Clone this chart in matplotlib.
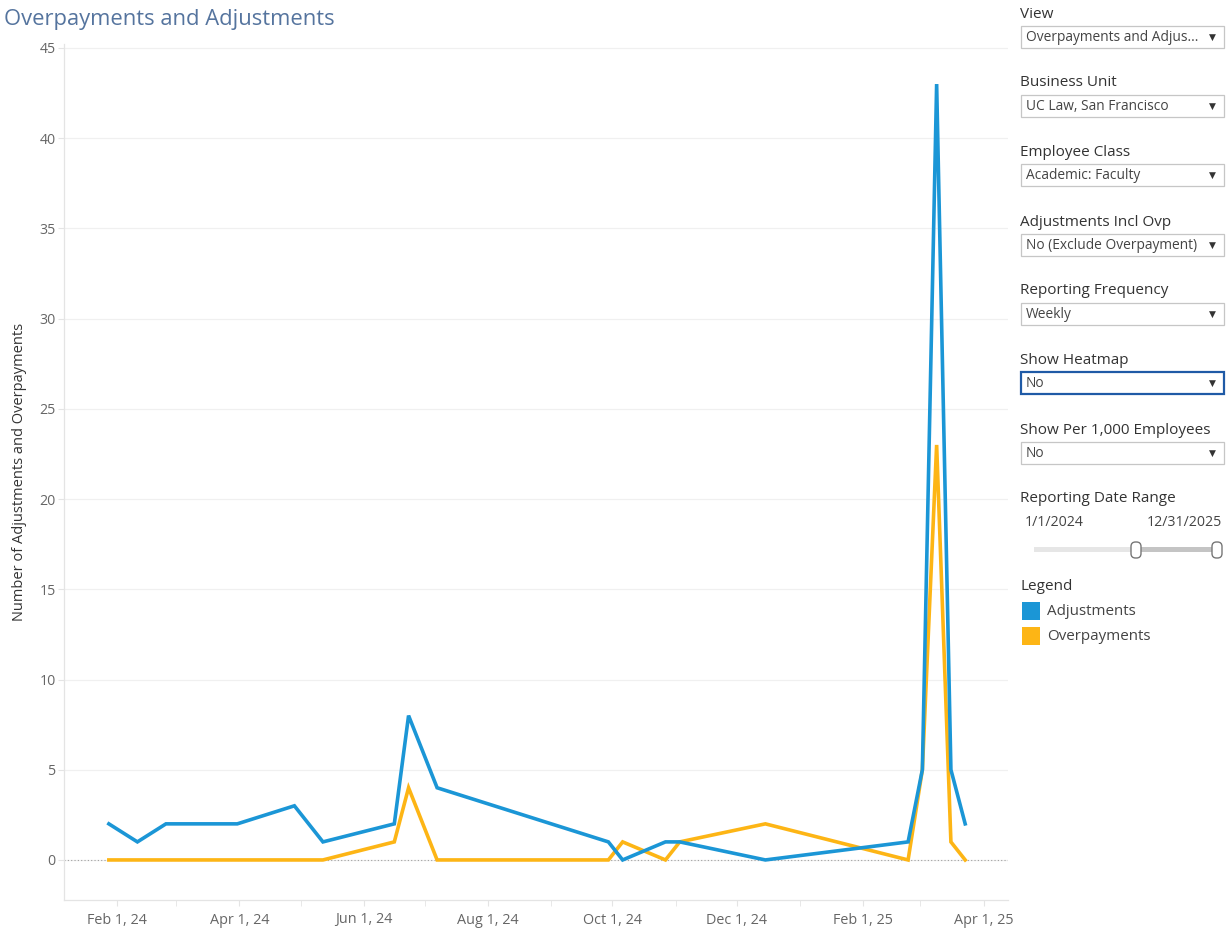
import matplotlib

matplotlib.use("Agg")
import matplotlib.pyplot as plt
import matplotlib.dates as mdates
import numpy as np
from matplotlib.patches import Rectangle, FancyBboxPatch

plt.rcParams["font.family"] = ["Open Sans", "DejaVu Sans"]

# weekly reporting periods that have data
dates = ["2024-01-28", "2024-02-11", "2024-02-25", "2024-03-31", "2024-04-28",
         "2024-05-12", "2024-06-16", "2024-06-23", "2024-07-07", "2024-09-29",
         "2024-10-06", "2024-10-27", "2024-11-03", "2024-12-15", "2025-02-23",
         "2025-03-02", "2025-03-09", "2025-03-16", "2025-03-23"]
adjustments = [2, 1, 2, 2, 3, 1, 2, 8, 4, 1, 0, 1, 1, 0, 1, 5, 43, 5, 2]
overpayments = [0, 0, 0, 0, 0, 0, 1, 4, 0, 0, 1, 0, 1, 2, 0, 5, 23, 1, 0]

filters = [
    ("View", "Overpayments and Adjus...", 14),
    ("Business Unit", "UC Law, San Francisco", 83),
    ("Employee Class", "Academic: Faculty", 152),
    ("Adjustments Incl Ovp", "No (Exclude Overpayment)", 222),
    ("Reporting Frequency", "Weekly", 291),
    ("Show Heatmap", "No", 360),
    ("Show Per 1,000 Employees", "No", 430),
]

BLUE, ORANGE = "#1b96d6", "#fdb515"
GRID, AXIS, TXT = "#f0f0f0", "#e4e4e4", "#666666"
W, H = 1230, 932

fig = plt.figure(figsize=(W / 100, H / 100), dpi=100)
x0, x1, ytop, ybot = 64, 1008, 44, 900
ax = fig.add_axes([x0 / W, 1 - ybot / H, (x1 - x0) / W, (ybot - ytop) / H])

d = np.array(dates, dtype="datetime64[D]")
ax.plot(d, overpayments, color=ORANGE, lw=2.6, zorder=3, solid_joinstyle="miter")
ax.plot(d, adjustments, color=BLUE, lw=2.6, zorder=4, solid_joinstyle="miter")

ax.set_xlim(np.datetime64("2024-01-06"), np.datetime64("2025-04-13"))
ax.set_ylim(-2.22, 45.22)
ax.set_yticks(range(0, 46, 5))
ax.yaxis.grid(True, color=GRID, lw=0.9)
ax.set_axisbelow(True)
ax.axhline(0, color="#a0a0a0", lw=0.8, ls=(0, (1, 2)), zorder=2)

ax.xaxis.set_major_locator(mdates.MonthLocator(bymonth=[2, 4, 6, 8, 10, 12]))
ax.xaxis.set_minor_locator(mdates.MonthLocator())
ax.xaxis.set_major_formatter(mdates.DateFormatter("%b %-d, %y"))
ax.tick_params(axis="x", which="both", direction="out", length=4, color=AXIS,
               labelcolor=TXT, labelsize=10.4, pad=5)
ax.tick_params(axis="y", direction="out", length=4, color=AXIS, labelcolor=TXT,
               labelsize=10.2, pad=2)
for s in ("top", "right"):
    ax.spines[s].set_visible(False)
for s in ("left", "bottom"):
    ax.spines[s].set_color(AXIS)
    ax.spines[s].set_linewidth(0.9)
ax.set_ylabel("Number of Adjustments and Overpayments", fontsize=10.5,
              color="#333333", labelpad=9)

# overlay in pixel coordinates for title and side panel
ov = fig.add_axes([0, 0, 1, 1], zorder=-1)
ov.set_xlim(0, W)
ov.set_ylim(H, 0)
ov.axis("off")
ov.text(4, 19, "Overpayments and Adjustments", fontsize=15.8, color="#55749e",
        va="center", ha="left")

for name, value, ly in filters:
    ov.text(1020, ly, name, fontsize=11, color="#333333", va="center")
    by = ly + 12
    hl = name == "Show Heatmap"
    ov.add_patch(Rectangle((1021, by), 203, 22, facecolor="white",
                           edgecolor="#1f5aa6" if hl else "#c6c6c6",
                           lw=1.6 if hl else 0.9))
    ov.text(1026, by + 11.5, value, fontsize=9.9, color="#444444", va="center")
    ov.text(1212, by + 11, "\u25bc", fontsize=6.5, color="#333333", va="center",
            ha="center", family="DejaVu Sans")

ov.text(1020, 499, "Reporting Date Range", fontsize=11, color="#333333", va="center")
ov.text(1025, 523, "1/1/2024", fontsize=10.2, color="#444444", va="center")
ov.text(1222, 523, "12/31/2025", fontsize=10.2, color="#444444", va="center", ha="right")
ov.add_patch(Rectangle((1034, 547), 184, 5, facecolor="#e6e6e6", edgecolor="none"))
ov.add_patch(Rectangle((1136, 547), 82, 5, facecolor="#c4c4c4", edgecolor="none"))
for hx in (1131, 1212):
    ov.add_patch(FancyBboxPatch((hx, 542), 10, 16,
                                boxstyle="round,pad=0,rounding_size=4.5",
                                facecolor="white", edgecolor="#777777", lw=1.0))

ov.text(1020, 587, "Legend", fontsize=11, color="#333333", va="center")
for (lbl, col), sy in zip([("Adjustments", BLUE), ("Overpayments", ORANGE)], (602, 627)):
    ov.add_patch(Rectangle((1022, sy), 18, 18, facecolor=col, edgecolor="none"))
    ov.text(1047, sy + 9.5, lbl, fontsize=10.9, color="#444444", va="center")

fig.savefig("out.png", dpi=100)
